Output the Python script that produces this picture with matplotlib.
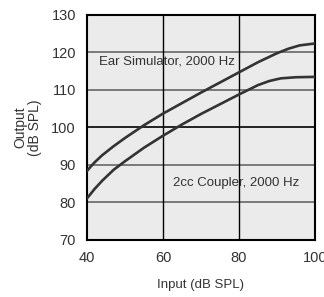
import numpy as np
import matplotlib
matplotlib.use('Agg')
import matplotlib.pyplot as plt

plt.rcParams['font.family'] = ['Liberation Sans', 'DejaVu Sans']

# data
inp_ear = [40, 41, 42, 44, 47, 50, 55, 60, 65, 70, 75, 80, 85, 90, 93, 96, 100]
ear_sim = [88.4, 89.6, 90.7, 92.6, 95.0, 97.2, 100.6, 103.7, 106.5, 109.3, 112.0,
           114.7, 117.4, 119.8, 121.0, 121.9, 122.4]
inp_cpl = [40, 42, 44, 47, 50, 55, 60, 65, 70, 75, 80, 85, 88, 91, 95, 100]
coupler = [81.1, 83.6, 85.8, 88.7, 91.0, 94.6, 97.8, 100.8, 103.6, 106.2, 108.8,
           111.3, 112.4, 113.1, 113.4, 113.5]

xticks = [40, 60, 80, 100]
yticks = [70, 80, 90, 100, 110, 120, 130]

fig = plt.figure(figsize=(3.24, 2.97), dpi=100)
ax = fig.add_axes([0.2685, 0.192, 0.7035, 0.7575])
ax.set_facecolor('#ebebeb')

# grid: horizontal mostly grey, 100 line black, verticals black
for yv in yticks[1:-1]:
    c = 'black' if yv == 100 else '#666666'
    ax.axhline(yv, color=c, lw=1.2, zorder=1)
for xv in xticks[1:-1]:
    ax.axvline(xv, color='black', lw=1.0, zorder=1)

ax.plot(inp_ear, ear_sim, color='#333333', lw=1.9, zorder=3)
ax.plot(inp_cpl, coupler, color='#333333', lw=1.9, zorder=3)

ax.text(43.2, 117.6, 'Ear Simulator, 2000 Hz', fontsize=9.5, color='#333333',
        va='center', ha='left', zorder=2)
ax.text(62.6, 85.1, '2cc Coupler, 2000 Hz', fontsize=9.5, color='#333333',
        va='center', ha='left', zorder=2)

ax.set_xlim(40, 100)
ax.set_ylim(70, 130)
ax.set_xticks(xticks)
ax.set_yticks(yticks)
ax.tick_params(length=0, labelsize=10.5, labelcolor='#333333', pad=8)
for s in ax.spines.values():
    s.set_color('black')
    s.set_linewidth(1.5)

ax.set_xlabel('Input (dB SPL)', fontsize=9.5, color='#333333', labelpad=10)
ax.set_ylabel('Output\n(dB SPL)', fontsize=10, color='#333333', labelpad=7,
              linespacing=1.0)

fig.savefig('out.png', dpi=100)
